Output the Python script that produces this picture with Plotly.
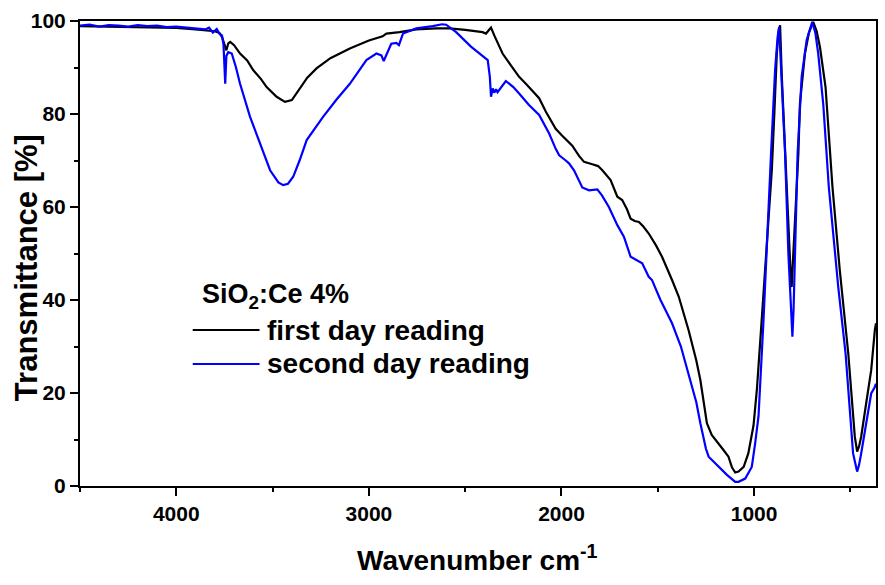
import plotly.graph_objects as go

# ---- data ----
wn_first = [4500, 4400, 4300, 4200, 4100, 4000, 3900, 3850, 3800, 3775, 3763, 3750, 3740, 3730, 3720,
            3700, 3669, 3632, 3600, 3560, 3531, 3479, 3436, 3400, 3358, 3320, 3272, 3200, 3099, 3000,
            2929, 2909, 2841, 2754, 2650, 2582, 2500, 2410, 2392, 2375, 2366, 2349, 2306, 2260, 2220,
            2185, 2116, 2081, 2030, 2000, 1961, 1944, 1909, 1883, 1840, 1810, 1788, 1745, 1710, 1685,
            1660, 1641, 1620, 1598, 1575, 1547, 1510, 1478, 1426, 1391, 1340, 1300, 1279, 1260, 1245,
            1220, 1184, 1160, 1133, 1115, 1098, 1081, 1054, 1030, 1003, 985, 960, 935, 908, 895, 882,
            872, 865, 856, 839, 822, 808, 805, 800, 788, 770, 762, 736, 715, 693, 675, 658, 629, 593,
            555, 511, 477, 465, 455, 444, 418, 392, 373, 367]
t_first = [98.9, 98.8, 98.8, 98.6, 98.5, 98.5, 98.2, 98.0, 97.8, 97.4, 96.6, 95.0, 93.7, 95.2, 95.5,
           94.8, 93.0, 91.5, 89.4, 87.5, 85.8, 83.7, 82.6, 83.0, 85.5, 87.8, 89.8, 92.0, 94.1, 95.8,
           96.7, 97.3, 97.6, 98.2, 98.4, 98.4, 98.1, 97.6, 97.3, 98.2, 98.6, 96.9, 93.0, 90.3, 88.0,
           86.5, 83.4, 80.5, 76.8, 75.5, 73.8, 73.2, 71.0, 69.7, 69.2, 68.8, 67.9, 65.8, 62.2, 61.5,
           59.5, 57.5, 57.0, 56.8, 55.8, 54.3, 51.8, 49.3, 44.3, 40.7, 33.5, 27.0, 22.8, 17.0, 13.5,
           11.0, 9.2, 7.8, 6.3, 4.0, 2.9, 3.1, 4.1, 7.0, 13.0, 21.0, 36.0, 52.0, 67.9, 80.0, 93.0,
           98.0, 99.1, 88.0, 71.5, 53.6, 43.5, 42.8, 47.0, 57.2, 71.5, 82.2, 93.0, 97.5, 99.8, 97.8, 94.4, 85.8, 64.3,
           46.4, 28.5, 10.6, 7.4, 8.5, 10.6, 17.8, 24.9, 33.5, 35.0]

wn_second = [4500, 4450, 4400, 4350, 4300, 4250, 4200, 4150, 4100, 4050, 4000, 3950, 3900, 3850, 3830,
             3810, 3790, 3775, 3763, 3755, 3746, 3740, 3730, 3712, 3690, 3669, 3617, 3565, 3513, 3470,
             3445, 3420, 3393, 3360, 3323, 3238, 3170, 3099, 3013, 2961, 2935, 2923, 2906, 2884, 2858,
             2844, 2823, 2754, 2668, 2620, 2599, 2547, 2470, 2383, 2372, 2366, 2357, 2349, 2340, 2332,
             2289, 2250, 2220, 2170, 2116, 2064, 2030, 2012, 1978, 1961, 1935, 1918, 1892, 1857, 1814,
             1790, 1754, 1710, 1676, 1641, 1616, 1581, 1547, 1530, 1486, 1426, 1380, 1340, 1300, 1279,
             1250, 1236, 1184, 1141, 1098, 1081, 1046, 1012, 995, 977, 951, 934, 912, 891, 878, 870,
             856, 839, 822, 808, 801, 795, 788, 774, 753, 727, 698, 682, 667, 641, 612, 563, 525, 486,
             465, 455, 444, 425, 392, 373, 367]
t_second = [99.0, 99.2, 98.8, 99.1, 99.0, 98.8, 99.1, 98.9, 99.0, 98.7, 98.8, 98.6, 98.5, 98.2, 98.6,
            97.5, 98.3, 97.2, 96.9, 95.0, 86.5, 92.5, 93.3, 93.0, 90.0, 86.5, 79.4, 73.6, 67.9, 65.3,
            64.7, 65.0, 66.5, 70.0, 74.4, 79.4, 83.0, 86.5, 91.6, 93.0, 92.6, 91.4, 93.0, 95.1, 95.3,
            94.8, 97.3, 98.4, 98.9, 99.3, 99.2, 97.6, 94.5, 91.6, 88.0, 83.7, 85.5, 84.6, 85.3, 84.7,
            87.1, 85.8, 84.4, 82.0, 79.8, 75.8, 72.5, 71.1, 70.0, 69.4, 67.9, 66.5, 64.2, 63.6, 63.8,
            62.5, 60.0, 56.1, 53.6, 49.3, 48.7, 47.9, 45.0, 44.3, 40.0, 35.0, 30.0, 24.2, 18.0, 13.5,
            8.0, 6.3, 4.1, 2.4, 0.9, 0.9, 1.6, 4.1, 9.0, 15.0, 35.7, 50.0, 71.5, 89.4, 96.5, 98.7,
            85.8, 71.5, 50.0, 35.7, 32.1, 38.0, 50.0, 71.5, 88.0, 95.9, 99.8, 97.5, 93.0, 82.2, 64.3, 42.8, 28.5, 7.0,
            3.1, 4.5, 7.0, 12.0, 19.9, 21.3, 22.0]

x_tick_vals = [4000, 3000, 2000, 1000]
y_tick_vals = [0, 20, 40, 60, 80, 100]

FONT = "Liberation Sans, Arial, sans-serif"

fig = go.Figure()
fig.add_trace(go.Scatter(x=wn_first, y=t_first, mode="lines", name="first day reading",
                         line=dict(color="black", width=2.2), showlegend=False))
fig.add_trace(go.Scatter(x=wn_second, y=t_second, mode="lines", name="second day reading",
                         line=dict(color="#0000FF", width=2.2), showlegend=False))

axis_common = dict(showgrid=False, zeroline=False, showline=True, linecolor="black", linewidth=2,
                   mirror=True, ticks="outside", ticklen=8, tickwidth=2, tickcolor="black",
                   tickfont=dict(family=FONT, size=21, color="black", weight="bold"))

fig.update_xaxes(range=[4500, 367], tickvals=x_tick_vals,
                 minor=dict(dtick=500, tick0=0, ticks="outside", ticklen=4, tickwidth=2, tickcolor="black"),
                 **axis_common)
fig.update_yaxes(range=[0, 100], tickvals=y_tick_vals,
                 minor=dict(dtick=10, tick0=0, ticks="outside", ticklen=4, tickwidth=2, tickcolor="black"),
                 **axis_common)

W, H = 885, 585
L, R, T, B = 80, 7, 21, 99
pw, ph = W - L - R, H - T - B

def px(xp):
    return (xp - L) / pw

def py(yp):
    return (H - B - yp) / ph

ann_font = dict(family=FONT, size=28, color="black", weight="bold")
annotations = [
    dict(text="Transmittance [%]", x=px(26), y=py(268), xref="paper", yref="paper", textangle=-90,
         showarrow=False, xanchor="center", yanchor="middle",
         font=dict(family=FONT, size=31, color="black", weight="bold")),
    dict(text="Wavenumber cm<sup>-1</sup>", x=px(478), y=py(558), xref="paper", yref="paper",
         showarrow=False, xanchor="center", yanchor="middle",
         font=dict(family=FONT, size=28, color="black", weight="bold")),
    dict(text="SiO<sub>2</sub>:Ce 4%", x=px(200), y=py(296), xref="paper", yref="paper",
         showarrow=False, xanchor="left", yanchor="middle", font=dict(family=FONT, size=27, color="black", weight="bold")),
    dict(text="first day reading", x=px(265), y=py(330), xref="paper", yref="paper",
         showarrow=False, xanchor="left", yanchor="middle", font=ann_font),
    dict(text="second day reading", x=px(265), y=py(364), xref="paper", yref="paper",
         showarrow=False, xanchor="left", yanchor="middle", font=ann_font),
]
shapes = [
    dict(type="line", xref="paper", yref="paper", x0=px(193), x1=px(260), y0=py(330), y1=py(330),
         line=dict(color="black", width=2.2)),
    dict(type="line", xref="paper", yref="paper", x0=px(193), x1=px(260), y0=py(364), y1=py(364),
         line=dict(color="#0000FF", width=2.2)),
]

fig.update_layout(width=W, height=H, margin=dict(l=L, r=R, t=T, b=B),
                  paper_bgcolor="white", plot_bgcolor="white",
                  annotations=annotations, shapes=shapes)

fig.write_html("out.html")
